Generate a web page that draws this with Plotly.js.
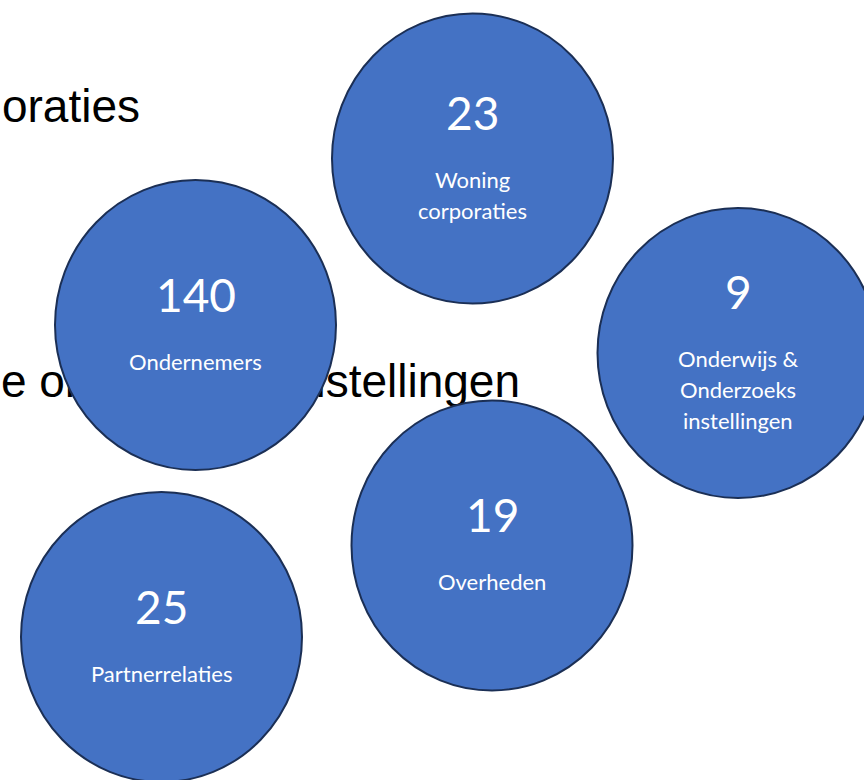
<!DOCTYPE html>
<html>
<head>
<meta charset="utf-8">
<script src="https://cdn.plot.ly/plotly-3.0.1.min.js"></script>
<style>html,body{margin:0;padding:0;background:#fff;}#chart{width:864px;height:780px;}</style>
</head>
<body>
<div id="chart"></div>
<script>
// ---- data ----
var categories = ["Woning corporaties", "Ondernemers", "Onderwijs & Onderzoeks instellingen", "Overheden", "Partnerrelaties"];
var labelLines = [["Woning", "corporaties"], ["Ondernemers"], ["Onderwijs &", "Onderzoeks", "instellingen"], ["Overheden"], ["Partnerrelaties"]];
var counts = [23, 140, 9, 19, 25];
var backgroundTexts = ["oraties", "e onderzoeks instellingen"];

// ---- layout (positions in pixel-like axis units) ----
var bubbleX = [472.5, 195.5, 738, 492, 161.5];
var bubbleY = [158.5, 325, 353, 545.5, 637];
var radiusX = 140.5, radiusY = 145;
var bgX = [140, 520];
var bgY = [110, 385];

var fill = "#4472C4", edge = "#1B2F55";
var numFont = {family: "Lato, 'Open Sans', sans-serif", size: 46, color: "#ffffff"};
var lblFont = {family: "Lato, 'Open Sans', sans-serif", size: 22, color: "#ffffff"};

var shapes = [], annotations = [];
for (var i = 0; i < counts.length; i++) {
  shapes.push({
    type: "circle", xref: "x", yref: "y", layer: "above",
    x0: bubbleX[i] - radiusX, x1: bubbleX[i] + radiusX,
    y0: bubbleY[i] - radiusY, y1: bubbleY[i] + radiusY,
    fillcolor: fill, line: {color: edge, width: 2}
  });
  var n = labelLines[i].length;
  var off = (n - 1) * 15.5;
  annotations.push({
    xref: "x", yref: "y", x: bubbleX[i], y: bubbleY[i] - 31 - off,
    text: String(counts[i]), showarrow: false, font: numFont,
    xanchor: "center", yanchor: "middle"
  });
  for (var j = 0; j < n; j++) {
    annotations.push({
      xref: "x", yref: "y", x: bubbleX[i], y: bubbleY[i] + 36 - off + j * 31,
      text: labelLines[i][j], showarrow: false, font: lblFont,
      xanchor: "center", yanchor: "middle"
    });
  }
}

var bgTrace = {
  type: "scatter", mode: "text",
  x: bgX, y: bgY, text: backgroundTexts,
  textposition: "middle left",
  textfont: {family: "'Liberation Sans', Arial, sans-serif", size: 46, color: "#000000"},
  hoverinfo: "skip", showlegend: false, cliponaxis: true
};

var layout = {
  width: 864, height: 780,
  margin: {l: 0, r: 0, t: 0, b: 0, pad: 0},
  paper_bgcolor: "#ffffff", plot_bgcolor: "#ffffff",
  xaxis: {range: [0, 864], visible: false, fixedrange: true},
  yaxis: {range: [780, 0], visible: false, fixedrange: true},
  shapes: shapes,
  annotations: annotations,
  showlegend: false
};

Plotly.newPlot("chart", [bgTrace], layout, {staticPlot: true, displayModeBar: false});
</script>
</body>
</html>
